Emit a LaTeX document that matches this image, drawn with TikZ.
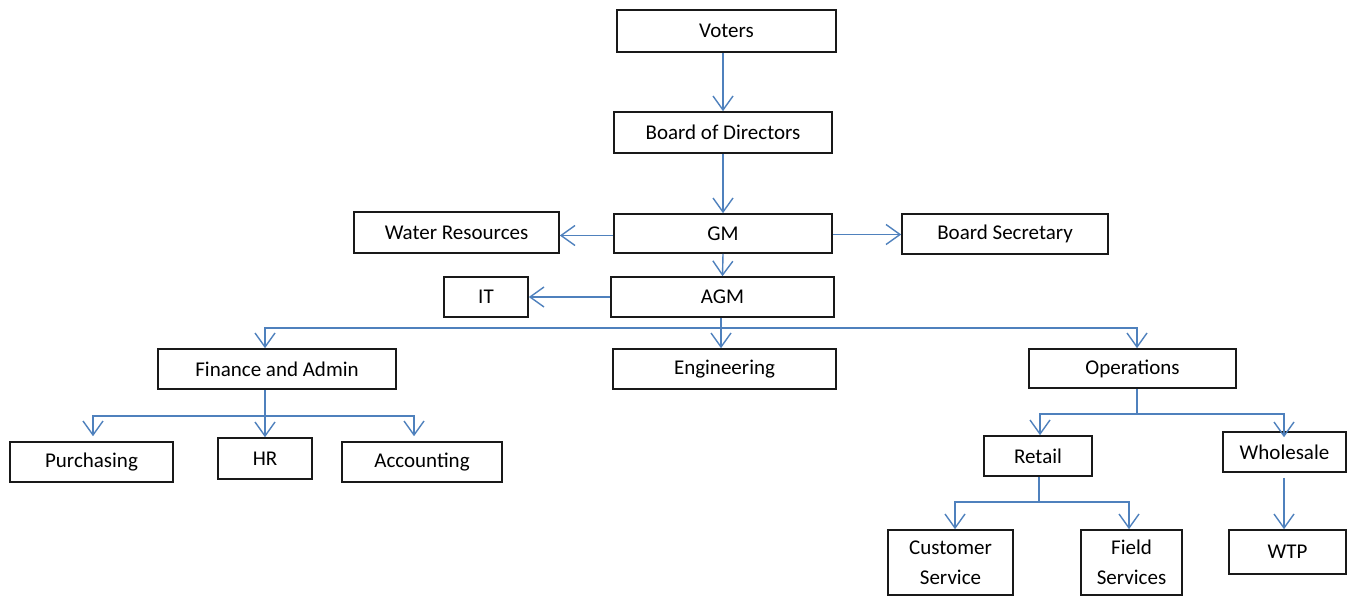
\documentclass[tikz,border=0pt]{standalone}
\usepackage{fontspec}
\setmainfont{Carlito}
\usetikzlibrary{arrows.meta,positioning,calc}
\definecolor{linkblue}{RGB}{79,129,189}
\definecolor{boxline}{RGB}{25,25,25}
\begin{document}
\begin{tikzpicture}[x=1pt,y=-1pt,
  box/.style={draw=boxline, line width=1.6pt, fill=white, inner sep=0pt, text=black,
    font=\fontsize{21}{30}\selectfont, align=center},
  link/.style={draw=linkblue, line width=1.4pt},
  arr/.style={link, -{Straight Barb[length=14pt,width=20pt,line width=1.4pt]}}]
\useasboundingbox (0,0) rectangle (1356,597);
\fill[white] (0,0) rectangle (1356,597);
% nodes
\node[box, minimum width=219, minimum height=42] (voters) at (726.5,31) {Voters};
\node[box, minimum width=218, minimum height=41] (bod) at (723,132.5) {Board of Directors};
\node[box, minimum width=218, minimum height=39] (gm) at (723,233.5) {GM};
\node[box, minimum width=205, minimum height=41] (wr) at (456.5,232.5) {Water Resources};
\node[box, minimum width=206, minimum height=40] (bs) at (1005,234) {Board Secretary};
\node[box, minimum width=223, minimum height=40] (agm) at (722.5,297) {AGM};
\node[box, minimum width=84, minimum height=40] (it) at (486,297) {IT};
\node[box, minimum width=238, minimum height=40] (fa) at (277,369) {Finance and Admin};
\node[box, minimum width=223, minimum height=40] (eng) at (724.5,369) {Engineering};
\node[box, minimum width=207, minimum height=39] (ops) at (1132.5,368.5) {Operations};
\node[box, minimum width=163, minimum height=40] (pur) at (91.5,462) {Purchasing};
\node[box, minimum width=94, minimum height=41] (hr) at (265,458.5) {HR};
\node[box, minimum width=160, minimum height=40] (acc) at (422,462) {Accounting};
\node[box, minimum width=108, minimum height=40] (ret) at (1038,456) {Retail};
\node[box, minimum width=123, minimum height=40] (whs) at (1284.5,452) {Wholesale};
\node[box, minimum width=125, minimum height=65] (cs) at (950.5,562.5) {Customer\\Service};
\node[box, minimum width=101, minimum height=65] (fs) at (1131.5,562.5) {Field\\Services};
\node[box, minimum width=117, minimum height=44] (wtp) at (1287.5,552) {WTP};
% bus points
\coordinate (busA) at (721,328);
\coordinate (busF) at (265,416);
\coordinate (busO) at (1137,414);
\coordinate (busR) at (1039,502);
% connectors
\draw[arr] (bod.north |- voters.south) -- (bod.north);
\draw[arr] (bod.south) -- (gm.north);
\draw[arr] ([yshift=-2]gm.west) -- ([yshift=-2]gm.west -| wr.east);
\draw[arr] ([yshift=-1]gm.east) -- ([yshift=-1]gm.east -| bs.west);
\draw[arr] (gm.south) -- (agm.north);
\draw[arr] (agm.west) -- (it.east);
\draw[arr] (agm.south -| busA) -- (eng.north -| busA);
\draw[arr] (busA) -| ([xshift=-12]fa.north);
\draw[arr] (busA) -| ([xshift=4.5]ops.north);
\draw[link] ([xshift=-12]fa.south) -- (busF);
\draw[arr] (busF) -| ([xshift=1.5,yshift=5]pur.north);
\draw[arr] (busF) -- (hr.north);
\draw[arr] (busF) -| ([xshift=-8,yshift=5]acc.north);
\draw[link] ([xshift=4.5]ops.south) -- (busO);
\draw[arr] (busO) -| ([xshift=2]ret.north);
\draw[arr] (busO) -| ([xshift=-0.5,yshift=-6]whs.north);
\draw[link] ([xshift=1]ret.south) -- (busR);
\draw[arr] (busR) -| ([xshift=4.5]cs.north);
\draw[arr] (busR) -| ([xshift=-2.5]fs.north);
\draw[arr] ([xshift=-0.5,yshift=-5]whs.south) -- ([xshift=-3.5]wtp.north);
\end{tikzpicture}
\end{document}
